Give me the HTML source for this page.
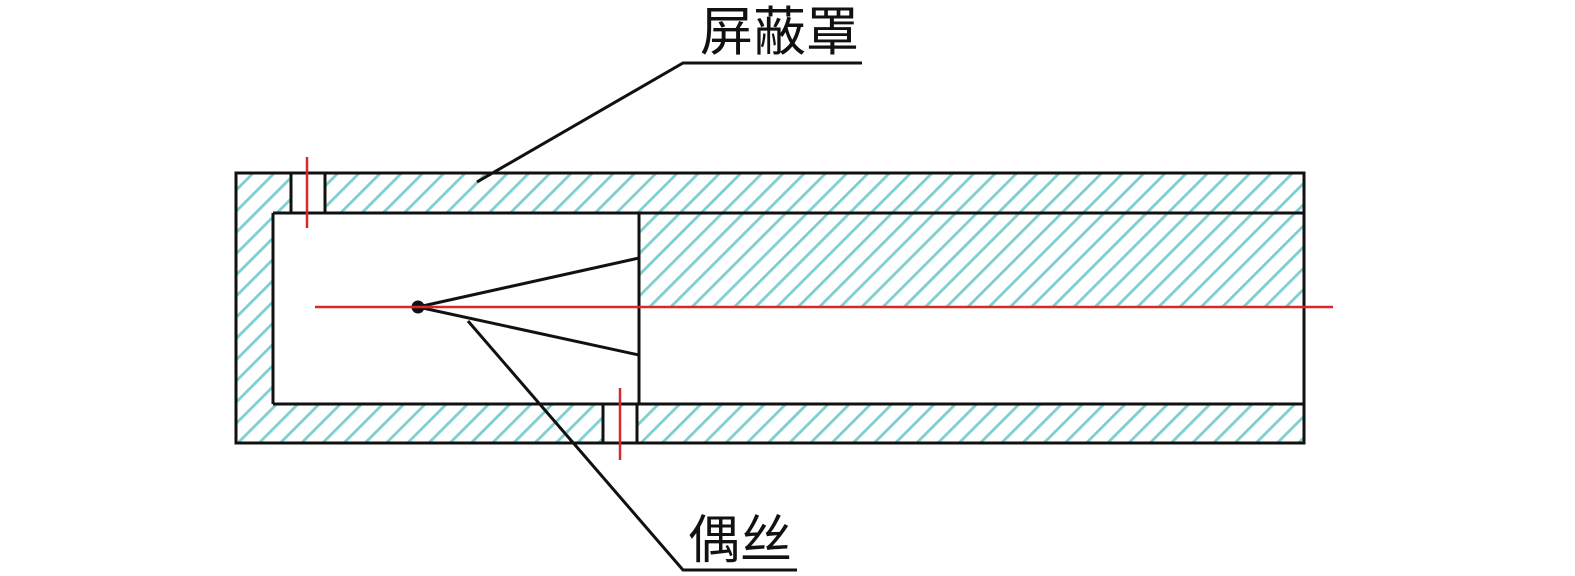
<!DOCTYPE html>
<html><head><meta charset="utf-8"><style>
html,body{margin:0;padding:0;background:#fff;}
svg{display:block;}
text{font-family:"Liberation Sans","Noto Sans CJK SC",sans-serif;}
</style></head><body>
<svg width="1575" height="576" viewBox="0 0 1575 576" xmlns="http://www.w3.org/2000/svg">
<defs>
<pattern id="h" patternUnits="userSpaceOnUse" width="15" height="15" patternTransform="rotate(45)">
<rect x="0" y="0" width="2.8" height="15" fill="#7fcfcf"/>
</pattern>
</defs>
<path fill="url(#h)" d="M236,173 H291 V213 H273 V404 H603 V443 H236 Z"/>
<path fill="url(#h)" d="M325,173 H1304 V213 H325 Z"/>
<path fill="url(#h)" d="M639,213 H1304 V307 H639 Z"/>
<path fill="url(#h)" d="M637,404 H1304 V443 H637 Z"/>
<g stroke="#111" stroke-width="3" fill="none">
<rect x="236" y="173" width="1068" height="270"/>
<line x1="273" y1="213" x2="1304" y2="213"/>
<line x1="273" y1="213" x2="273" y2="404"/>
<line x1="273" y1="404" x2="1304" y2="404"/>
<line x1="291" y1="173" x2="291" y2="213"/>
<line x1="325" y1="173" x2="325" y2="213"/>
<line x1="603" y1="404" x2="603" y2="443"/>
<line x1="637" y1="404" x2="637" y2="443"/>
<line x1="639" y1="213" x2="639" y2="404"/>
<line x1="418" y1="307" x2="639" y2="258"/>
<line x1="418" y1="307" x2="639" y2="355"/>
<polyline points="477,182 683,63 862,63"/>
<polyline points="468,321 683,570 797,570"/>
</g>
<circle cx="418" cy="307" r="6.5" fill="#111"/>
<g stroke="#d42a2a" stroke-width="2.5">
<line x1="315" y1="307" x2="1333" y2="307"/>
<line x1="307" y1="157" x2="307" y2="228"/>
<line x1="620" y1="388" x2="620" y2="460"/>
</g>
<text x="700" y="50" font-size="53" fill="#111">屏蔽罩</text>
<text x="688" y="558" font-size="52" fill="#111">偶丝</text>
</svg>
</body></html>
